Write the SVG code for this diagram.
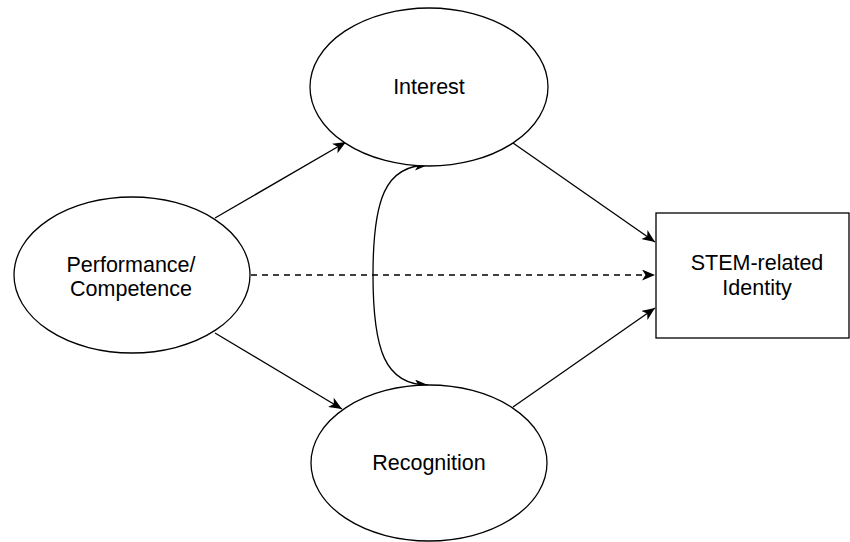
<svg xmlns="http://www.w3.org/2000/svg" width="850" height="542" viewBox="0 0 850 542">
<style>
.n{fill:#fff;stroke:#000;stroke-width:1.3}
.t{font-family:"Liberation Sans",Arial,sans-serif;font-size:21.5px;fill:#000;text-anchor:middle}
.e{fill:none;stroke:#000;stroke-width:1.3}
</style>
<defs>
<marker id="ah" viewBox="0 0 13 11" refX="13" refY="5.5" markerWidth="13" markerHeight="11" markerUnits="userSpaceOnUse" orient="auto-start-reverse">
<path d="M0,0 L13,5.5 L0,11 L3.5,5.5 z" fill="#000"/>
</marker>
</defs>
<rect width="850" height="542" fill="#fff"/>
<g id="edges">
<line class="e" x1="215" y1="218" x2="346" y2="142" marker-end="url(#ah)"/>
<line class="e" x1="215" y1="333" x2="342" y2="409" marker-end="url(#ah)"/>
<line class="e" x1="513" y1="143" x2="655" y2="242" marker-end="url(#ah)"/>
<line class="e" x1="513" y1="407" x2="655" y2="308" marker-end="url(#ah)"/>
<line class="e" x1="251" y1="275" x2="655" y2="275" stroke-dasharray="6,5" marker-end="url(#ah)"/>
<path class="e" d="M428,165 C385,165 373,200 373,275 C373,350 385,385 428,385" marker-start="url(#ah)" marker-end="url(#ah)"/>
</g>
<g id="interest">
<ellipse class="n" cx="429" cy="87" rx="119" ry="79"/>
<text class="t" x="429" y="94">Interest</text>
</g>
<g id="performance">
<ellipse class="n" cx="132" cy="275" rx="118" ry="78"/>
<text class="t" x="131" y="272">Performance/</text>
<text class="t" x="131" y="296">Competence</text>
</g>
<g id="recognition">
<ellipse class="n" cx="429" cy="463" rx="118" ry="78"/>
<text class="t" x="429" y="470">Recognition</text>
</g>
<g id="stem">
<rect class="n" x="656" y="213" width="193" height="125"/>
<text class="t" x="757" y="270">STEM-related</text>
<text class="t" x="757" y="295">Identity</text>
</g>
</svg>
